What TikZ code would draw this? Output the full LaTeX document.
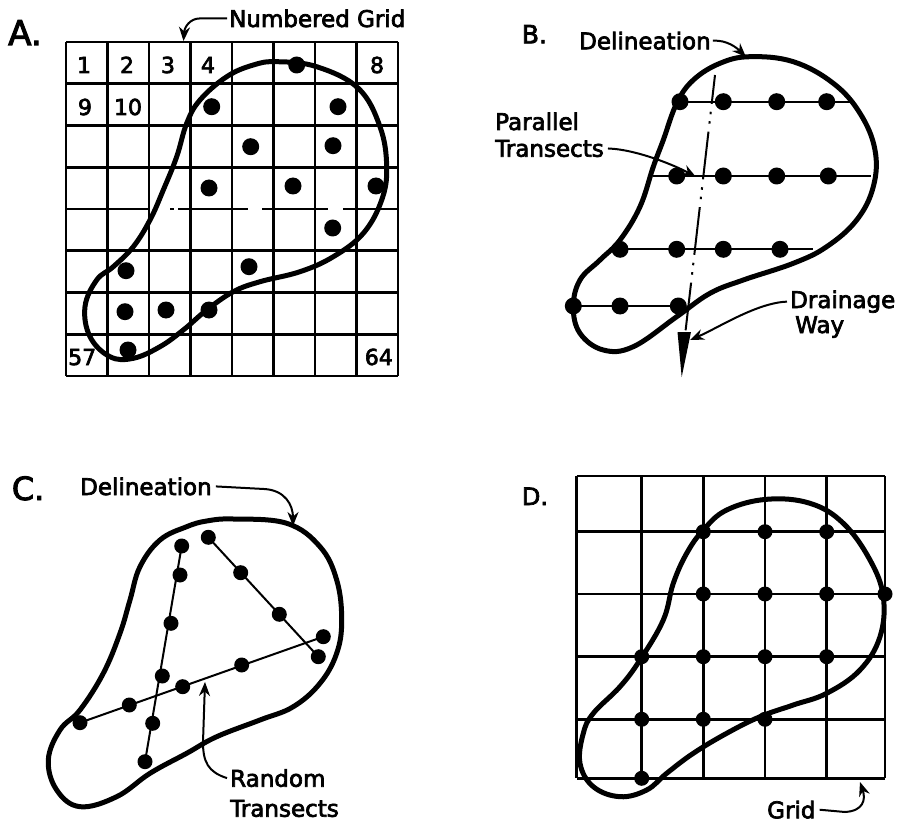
\documentclass[tikz,border=0pt]{standalone}
\usepackage{fontspec}
\setmainfont{DejaVu Sans}[BoldFont={DejaVu Sans},BoldFeatures={FakeBold=3}]
\usetikzlibrary{arrows.meta}
\begin{document}
\begin{tikzpicture}[x=1pt,y=-1pt,
  outline/.style={line width=5pt, line join=round},
  gridline/.style={line width=2.8pt},
  transect/.style={line width=2pt},
  dotA/.style={circle, fill=black, inner sep=0pt, minimum size=17pt},
  dotB/.style={circle, fill=black, inner sep=0pt, minimum size=17pt},
  dotC/.style={circle, fill=black, inner sep=0pt, minimum size=15pt},
  dotD/.style={circle, fill=black, inner sep=0pt, minimum size=15pt},
  lbl/.style={inner sep=0pt, anchor=base west, font=\fontsize{23}{23}\selectfont\bfseries},
  num/.style={inner sep=0pt, anchor=base, font=\fontsize{22}{22}\selectfont\bfseries},
  panel/.style={inner sep=0pt, anchor=base west},
  callout/.style={line width=2pt, -{Stealth[length=14pt,width=11pt]}},
]
\useasboundingbox (0,0) rectangle (906,824);

% ---------------- Panel A ----------------
\node[panel, font=\fontsize{34}{34}\selectfont\bfseries] (labA) at (8,45) {A.};
\foreach \i in {0,...,8} {
  \draw[gridline] ({66+41.5*\i},42) -- ({66+41.5*\i},376);
}
\foreach \j in {0,1,2,3,5,6,7,8} {
  \draw[gridline] (66,{42+41.75*\j}) -- (398,{42+41.75*\j});
}
% row line with scan breaks
\draw[gridline] (66,209) -- (150,209);
\draw[gridline] (170,209) -- (174,209);
\draw[gridline] (178,209) -- (248,209);
\draw[gridline] (262,209) -- (328,209);
\draw[gridline] (343,209) -- (398,209);

\node[num] (n1) at (84,73) {1};
\node[num] (n2) at (127,73) {2};
\node[num] (n3) at (168,73) {3};
\node[num] (n4) at (208,73) {4};
\node[num] (n8) at (377,73) {8};
\node[num] (n9) at (85,115) {9};
\node[num] (n10) at (128,115) {10};
\node[num, anchor=base west] (n57) at (68,365) {57};
\node[num, anchor=base east] (n64) at (393,365) {64};

\draw[outline] plot[smooth cycle, tension=0.65] coordinates {
 (276.7,61.7) (316.7,66.7) (358.3,88.3) (380,126.7) (386.7,166.7) (381.7,200)
 (363.3,233.3) (333.3,256.7) (300,271.7) (260,281.7) (233.3,291.7) (206.7,310)
 (183.3,330) (160,346.7) (133.3,358.3) (110,356.7) (90,336.7) (85,306.7)
 (96.7,280) (113.3,266.7) (133.3,246.7) (150,220) (163.3,190) (176.7,156.7)
 (186.7,123.3) (200,100) (226.7,76.7) (253.3,65)};

\foreach \p [count=\k] in {(296.7,65),(211.7,106.7),(338,106.7),(250.7,146.7),(333,145.7),
  (209,188),(293,186),(376,186),(332.7,228),(126,270.7),(249,266.7),(125,311.7),
  (166,310),(209,310),(128,350)} {
  \node[dotA] (a\k) at \p {};
}

\node[lbl] (ngrid) at (229,27) {Numbered Grid};
\coordinate (gA) at (183.5,41);
\draw[callout] ([xshift=-2pt]ngrid.west) -- ++(-27,0) .. controls +(-10,0) and +(1,-14) .. (gA);

% ---------------- Panel B ----------------
\node[panel, font=\fontsize{25}{25}\selectfont\bfseries] (labB) at (521.7,43.3) {B.};

% transects
\coordinate (b1l) at (680,101.7);  \coordinate (b1r) at (855,101.7);
\coordinate (b2l) at (653.3,176);  \coordinate (b2r) at (871,176);
\coordinate (b3l) at (611.7,249.3);\coordinate (b3r) at (813.3,249.3);
\coordinate (b4l) at (573.3,306);  \coordinate (b4r) at (683.3,306);
\draw[transect] (b1l) -- (b1r);
\draw[transect] (b2l) -- (b2r);
\draw[transect] (b3l) -- (b3r);
\draw[transect] (b4l) -- (b4r);

% drainage way
\coordinate (dtop) at (715,75);
\coordinate (dtip) at (681.7,377);
\draw[line width=2pt, dash pattern=on 48pt off 8pt on 2.5pt off 7pt on 2.5pt off 8pt, dash phase=19pt] (dtop) -- (684.5,340);
\fill (677.5,332) -- (691,332) -- (dtip) -- cycle;

\draw[outline] plot[smooth cycle, tension=0.65] coordinates {
 (750,56.7) (793.3,61.7) (833.3,83.3) (860,113.3) (875,150) (873.3,186.7)
 (856.7,220) (826.7,246.7) (793.3,263.3) (743.3,280) (710,293.3) (676.7,316.7)
 (633.3,346.7) (603.3,350) (580,333.3) (573.3,306.7) (580,280) (600,260)
 (620,240) (640,206.7) (653.3,166.7) (663.3,140) (676.7,103.3) (693.3,80)
 (720,63.3)};

\foreach \x [count=\k] in {680,723.3,776.7,826.7} { \node[dotB] (b1\k) at (\x,101.7) {}; }
\foreach \x [count=\k] in {676.7,723.3,776.7,828.3} { \node[dotB] (b2\k) at (\x,176) {}; }
\foreach \x [count=\k] in {620,676.7,723.3,780} { \node[dotB] (b3\k) at (\x,249.3) {}; }
\foreach \x [count=\k] in {573.3,620,678.3} { \node[dotB] (b4\k) at (\x,306) {}; }

\node[lbl] (delB) at (579,49.3) {Delineation};
\coordinate (gB) at (746,57);
\draw[callout] ([xshift=2pt]delB.east) .. controls +(14,-1) and +(-9,-9) .. (gB);

\node[lbl] (parB) at (495,130) {Parallel};
\node[lbl] (trB) at (495,156.7) {Transects};
\coordinate (gP) at (696,177);
\draw[callout] ([xshift=4pt]trB.east) .. controls +(30,1) and +(-18,-10) .. (gP);

\node[lbl] (drB) at (790,308) {Drainage};
\node[lbl] (wayB) at (795,333) {Way};
\coordinate (gD) at (690,340);
\draw[callout] ([xshift=-3pt]drB.west) .. controls +(-30,1) and +(28,-12) .. (gD);

% ---------------- Panel C ----------------
\node[panel, font=\fontsize{32}{32}\selectfont\bfseries] (labC) at (11.7,500) {C.};

\draw[outline] plot[smooth cycle, tension=0.65] coordinates {
 (233.3,519) (286.7,523.3) (320,546.7) (336.7,580) (341.7,620) (336.7,653.3)
 (320,683.3) (293.3,706.7) (260,720) (216.7,736.7) (186.7,753.3) (150,773.3)
 (116.7,796.7) (80,806.7) (56.7,790) (48.3,760) (60,730) (80,710)
 (103.3,673.3) (120,633.3) (130,600) (140,566.7) (160,540) (186.7,526.7)
 (206.7,521)};

\foreach \p [count=\k] in {(181.7,546),(180,575),(171,623.3),(162.3,676),(152.7,723.3),(145,761.7)} {
  \node[dotC] (c1\k) at \p {};
}
\foreach \p [count=\k] in {(208.3,537.3),(240.7,572.7),(279.3,614.3),(318.3,656.7)} {
  \node[dotC] (c2\k) at \p {};
}
\foreach \p [count=\k] in {(80,722.7),(129.3,705),(182.7,686.7),(241.7,665),(323.3,636.7)} {
  \node[dotC] (c3\k) at \p {};
}
\draw[transect] (c11.center) -- (c16.center);
\draw[transect] (c21.center) -- (c24.center);
\draw[transect] (c31.center) -- (c35.center);

\node[lbl] (delC) at (80,495) {Delineation};
\coordinate (gC) at (293,526);
\draw[callout] ([xshift=4pt]delC.east) -- (264,489) .. controls (285,490) and (293,505) .. (gC);

\node[lbl] (rndC) at (230,786.7) {Random};
\node[lbl] (trC) at (230,816.7) {Transects};
\coordinate (gR) at (205,682);
\draw[callout] ([xshift=-3pt]rndC.west) .. controls (208,772) and (203,762) .. (203,742) -- (gR);

% ---------------- Panel D ----------------
\node[panel, font=\fontsize{24}{24}\selectfont\bfseries] (labD) at (521.7,505) {D.};
\foreach \x in {576.7,641.7,703.3,765,826.7,885} {
  \draw[gridline] (\x,476) -- (\x,778.3);
}
\foreach \y in {476,531.7,594,656.7,719.3,778.3} {
  \draw[gridline] (576.7,\y) -- (885,\y);
}
\draw[outline] plot[smooth cycle, tension=0.65] coordinates {
 (766.7,499.3) (810,503.3) (843.3,523.3) (870,560) (883.3,596.7) (880,636.7)
 (860,670) (826.7,693.3) (793.3,705) (760,716.7) (726.7,733.3) (693.3,753.3)
 (666.7,773.3) (646.7,790) (620,796.7) (593.3,786.7) (580,763.3) (583.3,733.3)
 (593.3,713.3) (620,686.7) (640,660) (663.3,620) (673.3,583.3) (686.7,553.3)
 (703.3,530) (726.7,510)};
\foreach \p [count=\k] in {(703.3,531.7),(765,531.7),(826.7,531.7),
  (703.3,594),(765,594),(826.7,594),(885,594),
  (641.7,656.7),(703.3,656.7),(765,656.7),(826.7,656.7),
  (641.7,719.3),(703.3,719.3),(765,719.3),(641.7,778.3)} {
  \node[dotD] (d\k) at \p {};
}

\node[lbl] (gridD) at (767,818.3) {Grid};
\coordinate (gG) at (860,782);
\draw[callout] ([xshift=4pt]gridD.east) -- (845,812) .. controls (863,811) and (866,800) .. (gG);

\end{tikzpicture}
\end{document}
